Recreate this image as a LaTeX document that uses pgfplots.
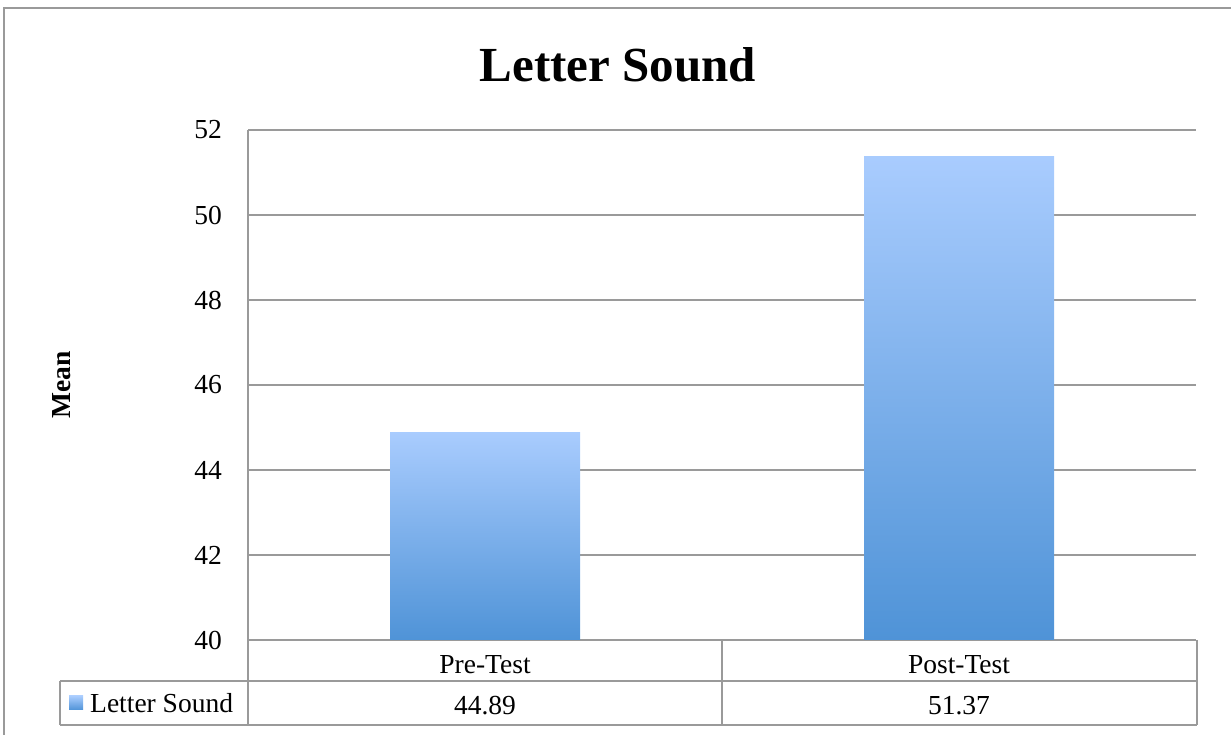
\documentclass[border=0pt]{standalone}
\usepackage{fontspec}
\setmainfont{Liberation Serif}
\usepackage{pgfplots}
\pgfplotsset{compat=1.18}
\definecolor{gridgray}{HTML}{9A9A9A}
\definecolor{bartop}{HTML}{A9CCFE}
\definecolor{barbot}{HTML}{4F93D7}
\newcommand{\lbl}{\fontsize{27.5}{32}\selectfont}
\begin{document}
\begin{tikzpicture}[x=1pt,y=1pt]
\path[use as bounding box] (0,0) rectangle (1231,735);
% outer frame
\draw[gridgray, line width=1.5pt] (4,-10) -- (4,727) -- (1245,727);
\begin{axis}[
  at={(248pt,95pt)}, anchor=south west,
  scale only axis, width=948pt, height=510pt,
  xmin=-0.5, xmax=1.5, ymin=40, ymax=52,
  ytick={40,42,...,52},
  xtick={0,1}, xticklabels={Pre-Test,Post-Test},
  axis x line*=bottom, axis y line*=left,
  axis line style={gridgray, line width=1.5pt, -},
  ymajorgrids, grid style={gridgray, line width=1.5pt},
  major tick length=0pt,
  tick style={draw=none},
  /pgf/number format/assume math mode=true,
  ticklabel style={font=\lbl},
  yticklabel style={anchor=east, inner sep=0pt, xshift=-26pt},
  xticklabel style={anchor=base, inner sep=0pt, yshift=-34pt},
  clip=false,
  no markers,
  every axis plot/.append style={ybar, bar width=190pt, draw=none, top color=bartop, bottom color=barbot, mark=none},
]
\addplot coordinates {(0,44.89)};
\addplot coordinates {(1,51.37)};
\end{axis}
% table lines
\begin{scope}[gridgray, line width=1.5pt]
\draw (60,54) -- (1197,54);
\draw (60,10) -- (1197,10);
\draw (60,54) -- (60,10);
\draw (248,95) -- (248,10);
\draw (722,95) -- (722,10);
\draw (1197,95) -- (1197,10);
\end{scope}
% legend key
\shade[top color=bartop, bottom color=barbot] (69,25) rectangle (83,39);
\node[anchor=base west, inner sep=0pt, font=\lbl] at (90,22) {Letter Sound};
\node[anchor=base, inner sep=0pt, font=\lbl] at (485,20) {44.89};
\node[anchor=base, inner sep=0pt, font=\lbl] at (959,20) {51.37};
% title
\node[anchor=base, inner sep=0pt, font=\fontsize{49}{58}\selectfont\bfseries] at (618,653) {Letter Sound};
% y label
\node[anchor=base, inner sep=0pt, rotate=90, font=\lbl\bfseries] at (70,350) {Mean};
\end{tikzpicture}
\end{document}
